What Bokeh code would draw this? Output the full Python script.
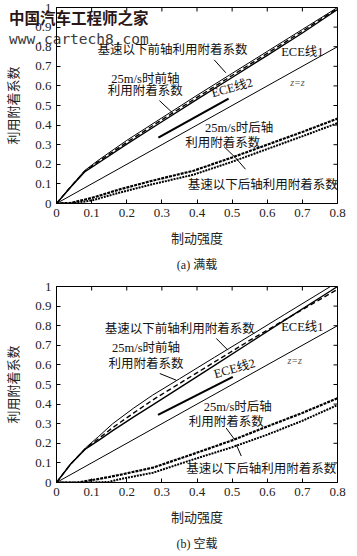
import math
from bokeh.plotting import figure
from bokeh.layouts import column
from bokeh.models import FixedTicker, Label, Title, Range1d, Div
from bokeh.embed import file_html
from bokeh.resources import INLINE

# ---------------- data ----------------
x_ticks = [0, 0.1, 0.2, 0.3, 0.4, 0.5, 0.6, 0.7, 0.8]
x_tick_labels = ["0", "0.1", "0.2", "0.3", "0.4", "0.5", "0.6", "0.7", "0.8"]
y_ticks = [0, 0.1, 0.2, 0.3, 0.4, 0.5, 0.6, 0.7, 0.8, 0.9, 1.0]
y_tick_labels = ["0", "0.1", "0.2", "0.3", "0.4", "0.5", "0.6", "0.7", "0.8", "0.9", "1"]

# (a) full load
a_front_z = [0, 0.04, 0.08, 0.12, 0.2, 0.3, 0.4, 0.5, 0.6, 0.7, 0.8]
a_front_upper = [0, 0.085, 0.168, 0.222, 0.322, 0.437, 0.552, 0.664, 0.776, 0.888, 1.0]
a_front_25 = [0, 0.084, 0.164, 0.215, 0.312, 0.427, 0.541, 0.653, 0.766, 0.879, 0.995]
a_front_base = [0, 0.083, 0.161, 0.208, 0.303, 0.417, 0.531, 0.643, 0.756, 0.870, 0.990]
a_rear_z = [0, 0.04, 0.1, 0.18, 0.27, 0.39, 0.5, 0.6, 0.7, 0.8]
a_rear_25 = [0, 0.003, 0.028, 0.072, 0.115, 0.167, 0.235, 0.300, 0.365, 0.433]
a_rear_base = [0, 0.0, 0.015, 0.056, 0.097, 0.147, 0.213, 0.278, 0.343, 0.410]
a_ece2_z = [0.29, 0.49]
a_ece2_phi = [0.336, 0.535]

# (b) empty load
b_front_z = [0, 0.04, 0.083, 0.12, 0.16, 0.22, 0.273, 0.35, 0.45, 0.55, 0.65, 0.78, 0.8]
b_front_upper = [0, 0.095, 0.177, 0.235, 0.30, 0.38, 0.445, 0.529, 0.639, 0.748, 0.858, 1.0, 1.02]
b_front_25 = [0, 0.094, 0.174, 0.224, 0.28, 0.355, 0.42, 0.505, 0.615, 0.725, 0.83, 0.965, 0.985]
b_front_base = [0, 0.093, 0.172, 0.215, 0.265, 0.335, 0.395, 0.483, 0.598, 0.713, 0.828, 0.977, 1.0]
b_rear_z = [0, 0.06, 0.1, 0.15, 0.18, 0.275, 0.39, 0.5, 0.6, 0.7, 0.8]
b_rear_25 = [0, 0.0, 0.012, 0.028, 0.039, 0.076, 0.146, 0.215, 0.286, 0.355, 0.43]
b_rear_base = [0, 0.0, 0.0, 0.003, 0.017, 0.05, 0.118, 0.18, 0.244, 0.315, 0.395]
b_ece2_z = [0.289, 0.502]
b_ece2_phi = [0.345, 0.539]

diag_z = [0, 0.8]
diag_phi = [0, 0.8]

SERIF_CJK = "'Liberation Serif', 'Noto Sans CJK SC'"
CJK = "'Noto Sans CJK SC'"


def make_fig(border_bottom, title):
    p = figure(frame_width=281, frame_height=196, output_backend="svg", toolbar_location=None,
               x_range=Range1d(0, 0.8), y_range=Range1d(0, 1.0),
               min_border_left=46, min_border_right=10, min_border_top=7,
               min_border_bottom=border_bottom)
    p.grid.visible = False
    p.outline_line_color = "black"
    p.outline_line_width = 1
    p.background_fill_alpha = 0
    p.border_fill_alpha = 0
    p.xaxis.ticker = FixedTicker(ticks=x_ticks)
    p.yaxis.ticker = FixedTicker(ticks=y_ticks)
    p.xaxis.major_label_overrides = {t: l for t, l in zip(x_ticks, x_tick_labels)}
    p.yaxis.major_label_overrides = {t: l for t, l in zip(y_ticks, y_tick_labels)}
    for ax in (p.xaxis[0], p.yaxis[0]):
        ax.major_tick_in = 4
        ax.major_tick_out = 0
        ax.minor_tick_in = 0
        ax.minor_tick_out = 0
        ax.axis_line_color = "black"
        ax.major_label_text_font = "Liberation Serif"
        ax.major_label_text_font_size = "13px"
        ax.major_label_text_color = "#222222"
        ax.major_label_standoff = 5
        ax.axis_label_text_font = CJK
        ax.axis_label_text_font_size = "13px"
        ax.axis_label_text_font_style = "normal"
        ax.axis_label_text_color = "#222222"
    p.xaxis.axis_label = "制动强度"
    p.yaxis.axis_label = "利用附着系数"
    p.xaxis.axis_label_standoff = 8
    p.yaxis.axis_label_standoff = 10
    # inward ticks on the top and right edges of the box
    p.ray(x=x_ticks, y=1.0, length=4, length_units="screen", angle=-math.pi / 2,
          line_color="black", line_width=1)
    p.ray(x=0.8, y=y_ticks, length=4, length_units="screen", angle=math.pi,
          line_color="black", line_width=1)
    p.add_layout(Title(text=title, align="center", text_font=SERIF_CJK, standoff=12,
                       text_font_size="12px", text_font_style="normal",
                       text_color="#222222"), "below")
    return p


def txt(p, x, y, s, size="12.5px", angle=0.0, font=SERIF_CJK, style="normal",
        color="#111111", align="center"):
    p.add_layout(Label(x=x, y=y, text=s, text_font=font, text_font_size=size,
                       text_align=align, text_baseline="middle", angle=angle,
                       text_font_style=style, text_color=color))


def draw(p, fz, fu, f25, fb, rz, r25, rb, ez, ep):
    p.line(fz, fu, line_color="black", line_width=1.0)
    p.line(fz, f25, line_color="black", line_width=1.4, line_dash="5 3")
    p.line(fz, fb, line_color="black", line_width=1.4)
    p.line(diag_z, diag_phi, line_color="black", line_width=1.0)
    p.line(ez, ep, line_color="black", line_width=2.2)
    p.line(rz, r25, line_color="black", line_width=2.2, line_dash="3 1")
    p.line(rz, rb, line_color="black", line_width=2.0, line_dash="2 1")


# ---------------- (a) ----------------
p1 = make_fig(76, "(a) 满载")
draw(p1, a_front_z, a_front_upper, a_front_25, a_front_base,
     a_rear_z, a_rear_25, a_rear_base, a_ece2_z, a_ece2_phi)
txt(p1, 0.33, 0.785, "基速以下前轴利用附着系数")
p1.segment(x0=[0.449], y0=[0.733], x1=[0.482], y1=[0.667], line_color="black", line_width=1)
txt(p1, 0.253, 0.635, "25m/s时前轴")
txt(p1, 0.253, 0.575, "利用附着系数")
p1.segment(x0=[0.293], y0=[0.525], x1=[0.33], y1=[0.463], line_color="black", line_width=1)
txt(p1, 0.70, 0.775, "ECE线1")
txt(p1, 0.686, 0.615, "z=z", size="10px", font="Liberation Serif", style="italic", color="#555555")
txt(p1, 0.50, 0.59, "ECE线2", angle=0.27)
txt(p1, 0.52, 0.383, "25m/s时后轴")
txt(p1, 0.473, 0.308, "利用附着系数")
p1.segment(x0=[0.477, 0.51], y0=[0.29, 0.233], x1=[0.51, 0.538], y1=[0.233, 0.175],
           line_color="black", line_width=1)
txt(p1, 0.587, 0.092, "基速以下后轴利用附着系数")

# ---------------- (b) ----------------
p2 = make_fig(60, "(b) 空载")
draw(p2, b_front_z, b_front_upper, b_front_25, b_front_base,
     b_rear_z, b_rear_25, b_rear_base, b_ece2_z, b_ece2_phi)
txt(p2, 0.351, 0.783, "基速以下前轴利用附着系数")
p2.segment(x0=[0.455], y0=[0.735], x1=[0.488], y1=[0.675], line_color="black", line_width=1)
txt(p2, 0.255, 0.688, "25m/s时前轴")
txt(p2, 0.255, 0.606, "利用附着系数")
p2.segment(x0=[0.294], y0=[0.556], x1=[0.341], y1=[0.522], line_color="black", line_width=1)
txt(p2, 0.70, 0.791, "ECE线1")
txt(p2, 0.678, 0.623, "z=z", size="10px", font="Liberation Serif", style="italic", color="#555555")
txt(p2, 0.507, 0.581, "ECE线2", angle=0.27)
txt(p2, 0.516, 0.387, "25m/s时后轴")
txt(p2, 0.483, 0.311, "利用附着系数")
p2.segment(x0=[0.483, 0.512], y0=[0.278, 0.193], x1=[0.507, 0.526], y1=[0.219, 0.135],
           line_color="black", line_width=1)
txt(p2, 0.583, 0.067, "基速以下后轴利用附着系数")

# watermark laid under the transparent top figure
watermark = Div(
    text=("<div style=\"position:relative;width:341px;height:44px;\">"
          "<span style=\"position:absolute;left:9px;top:9px;font:bold 15.5px 'Noto Sans CJK SC';"
          "line-height:16px;color:#2a1616;white-space:nowrap;\">中国汽车工程师之家</span>"
          "<span style=\"position:absolute;left:9px;top:32px;font:14.5px 'DejaVu Sans Mono';"
          "line-height:14px;color:#3a3a3a;white-space:nowrap;\">www.cartech8.com</span></div>"),
    width=341, height=44, margin=(0, 0, -44, 0))

layout = column(watermark, p1, p2, spacing=0)
open("out.html", "w").write(file_html(layout, INLINE))
